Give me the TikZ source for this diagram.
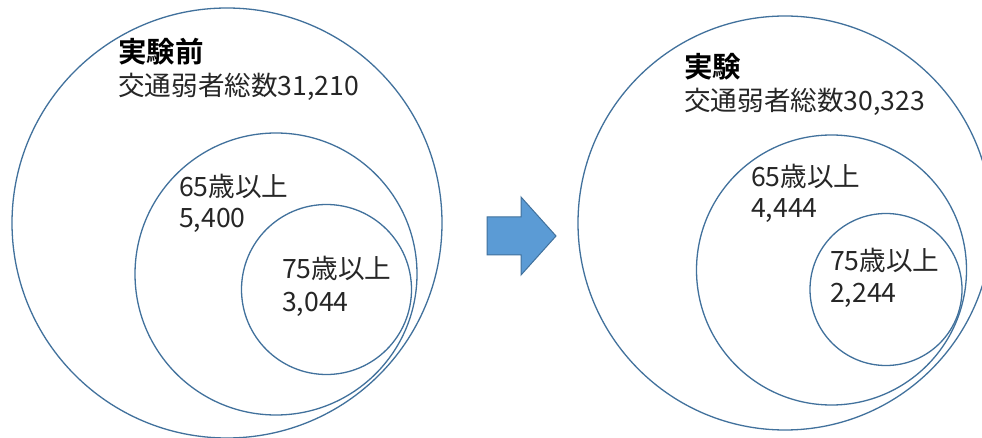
\documentclass[tikz,border=0pt]{standalone}
\usepackage{fontspec}
\newfontfamily\cjk{Noto Sans CJK JP}
\newfontfamily\cjkbold{Noto Sans CJK JP Bold}
\begin{document}
\begin{tikzpicture}[x=1pt,y=-1pt,
  ring/.style={circle,draw=ringblue,line width=1.3pt,inner sep=0pt},
  lbl/.style={anchor=base west,inner sep=0pt,font=\cjk\fontsize{26.6}{26.6}\selectfont,text=txtgray},
  ttl/.style={anchor=base west,inner sep=0pt,font=\cjkbold\fontsize{28.5}{28.5}\selectfont,text=black}]
\definecolor{ringblue}{HTML}{41719C}
\definecolor{arrowfill}{HTML}{5B9BD5}
\definecolor{txtgray}{HTML}{262626}
\useasboundingbox (0,0) rectangle (982,438);
\fill[white] (0,0) rectangle (982,438);
\begin{scope}
\clip (0,0) rectangle (982,438);
% left group
\node[ring,minimum size=430pt] (L1) at (227,223) {};
\node[ring,minimum size=282pt] (L2) at (276,274) {};
\node[ring,minimum size=170pt] (L3) at (326.5,289.5) {};
% right group
\node[ring,minimum size=414pt] (R1) at (785,223) {};
\node[ring,minimum size=270pt] (R2) at (831.5,270) {};
\node[ring,minimum size=152pt] (R3) at (886,289.5) {};
\end{scope}
% arrow
\draw[fill=arrowfill,draw=ringblue,line width=1pt,line join=miter]
  (487,217) -- (521,217) -- (521,197) -- (556,236) -- (521,275) -- (521,255) -- (487,255) -- cycle;
% texts left
\node[ttl] (t1) at (118,63) {実験前};
\node[lbl] (t2) at (118,96) {交通弱者総数31,210};
\node[lbl] (t3) at (179,197) {65歳以上};
\node[lbl] (t4) at (179,228) {5,400};
\node[lbl] (t5) at (282,279) {75歳以上};
\node[lbl] (t6) at (282,311) {3,044};
% texts right
\node[ttl] (u1) at (684,78) {実験};
\node[lbl] (u2) at (684,111) {交通弱者総数30,323};
\node[lbl] (u3) at (751,187) {65歳以上};
\node[lbl] (u4) at (751,218) {4,444};
\node[lbl] (u5) at (830,271) {75歳以上};
\node[lbl] (u6) at (830,302) {2,244};
\end{tikzpicture}
\end{document}
